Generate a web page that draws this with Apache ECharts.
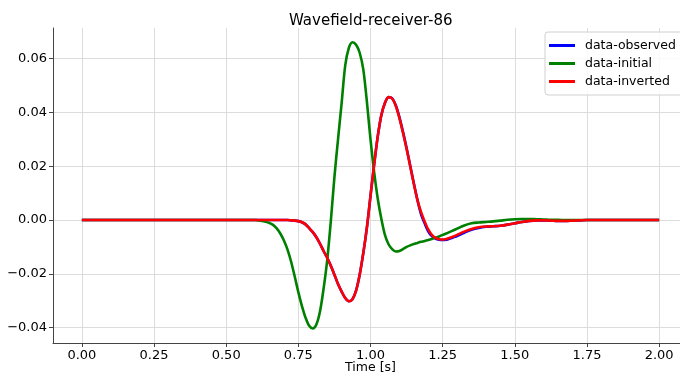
<!DOCTYPE html>
<html><head><meta charset="utf-8">
<script src="https://cdn.jsdelivr.net/npm/echarts@6/dist/echarts.min.js"></script>
<style>html,body{margin:0;padding:0;background:#fff}#c{width:680px;height:374px}</style>
</head><body><div id="c"></div>
<script>
var times = [0.0,0.05,0.1,0.15,0.2,0.25,0.3,0.35,0.4,0.45,0.5,0.55,0.575,
0.6,0.6125,0.625,0.6375,0.65,0.6625,0.675,0.6875,0.7,0.7125,0.725,0.7375,0.75,0.7625,0.775,0.7875,
0.8,0.8125,0.825,0.8375,0.85,0.8625,0.875,0.8875,0.9,0.9125,0.925,0.9375,0.95,0.9625,0.975,0.9875,
1.0,1.0125,1.025,1.0375,1.05,1.0625,1.075,1.0875,1.1,1.1125,1.125,1.1375,1.15,1.1625,1.175,1.1875,
1.2,1.2125,1.225,1.2375,1.25,1.2625,1.275,1.2875,1.3,
1.325,1.35,1.375,1.4,1.425,1.45,1.475,1.5,1.525,1.55,1.575,1.6,1.625,1.65,1.675,
1.7,1.725,1.75,1.775,1.8,1.825,1.85,1.875,1.9,1.925,1.95,1.975,2.0];

var initialVals = [0,0,0,0,0,0,0,0,0,0,0,0,0,
0,-0.0001,-0.0003,-0.0006,-0.0011,-0.0018,-0.0031,-0.0050,-0.0076,-0.0110,-0.0155,-0.0210,-0.0268,-0.0320,-0.0363,-0.0393,
-0.0403,-0.0388,-0.0340,-0.0255,-0.0149,-0.0005,0.0160,0.0300,0.0435,0.0575,0.0640,0.0661,0.0652,0.0622,0.0560,0.0440,
0.0300,0.0180,0.0080,0.0005,-0.0055,-0.0090,-0.0108,-0.0117,-0.0115,-0.0108,-0.0100,-0.0094,-0.0089,-0.0085,-0.0081,-0.0078,
-0.0074,-0.0070,-0.0066,-0.0061,-0.0055,-0.0050,-0.0044,-0.0038,-0.0032,
-0.0020,-0.0012,-0.0009,-0.0007,-0.0005,-0.0002,0.0001,0.0003,0.0004,0.0004,0.0003,0.0002,0.0001,0.0001,0,
0,0,0,0,0,0,0,0,0,0,0,0,0];

var invertedVals = [0,0,0,0,0,0,0,0,0,0,0,0,0,
0,0,0,0,0,0,0,0,0,0,-0.0001,-0.0002,-0.0004,-0.0008,-0.0016,-0.0030,
-0.0045,-0.0064,-0.0088,-0.0115,-0.0140,-0.0170,-0.0203,-0.0238,-0.0266,-0.0290,-0.0302,-0.0294,-0.0262,-0.0203,-0.0123,-0.0028,
0.0090,0.0205,0.0310,0.0390,0.0435,0.0457,0.0452,0.0425,0.0380,0.0325,0.0265,0.0200,0.0135,0.0075,0.0030,-0.0005,
-0.0035,-0.0055,-0.0066,-0.0071,-0.0072,-0.0070,-0.0066,-0.0061,-0.0055,
-0.0043,-0.0033,-0.0027,-0.0024,-0.0023,-0.0021,-0.0017,-0.0012,-0.0007,-0.0003,-0.0001,-0.0001,-0.0002,-0.0003,-0.0003,
-0.0002,-0.0001,0,0,0,0,0,0,0,0,0,0,0];

var observedVals = [0,0,0,0,0,0,0,0,0,0,0,0,0,
0,0,0,0,0,0,0,0,0,0,-0.0001,-0.0002,-0.0004,-0.0008,-0.0016,-0.0030,
-0.0045,-0.0064,-0.0088,-0.0115,-0.0140,-0.0170,-0.0203,-0.0238,-0.0266,-0.0290,-0.0302,-0.0294,-0.0262,-0.0203,-0.0123,-0.0028,
0.0090,0.0205,0.0310,0.0390,0.0435,0.0457,0.0452,0.0427,0.0383,0.0328,0.0268,0.0203,0.0137,0.0075,0.0022,-0.0012,
-0.0042,-0.0060,-0.0069,-0.0073,-0.0074,-0.0073,-0.0069,-0.0064,-0.0059,
-0.0047,-0.0036,-0.0029,-0.0025,-0.0023,-0.0021,-0.0017,-0.0012,-0.0007,-0.0003,-0.0001,-0.0001,-0.0002,-0.0003,-0.0003,
-0.0002,-0.0001,0,0,0,0,0,0,0,0,0,0,0];

var xTicks = [0,0.25,0.5,0.75,1.0,1.25,1.5,1.75,2.0];
var yTicks = [-0.04,-0.02,0,0.02,0.04,0.06];
var titleText = 'Wavefield-receiver-86';
var xName = 'Time [s]';
var names = ['data-observed','data-initial','data-inverted'];
var colors = ['#0000ff','#008000','#ff0000'];

function pairs(v){ return times.map(function(t,i){ return [t, v[i]]; }); }
function fmt(v){ var s = Math.abs(v).toFixed(2); return (v < -1e-9 ? '\u2212' : '') + s; }

var font = 'DejaVu Sans';
var chart = echarts.init(document.getElementById('c'), null, {renderer:'canvas'});
chart.setOption({
  animation:false,
  backgroundColor:'#fff',
  title:{text:titleText, left:284, top:9,
    textStyle:{fontFamily:font, fontSize:15, fontWeight:'normal', color:'#000'}},
  legend:{orient:'vertical', left:545, top:32, data:names.map(function(n){return {name:n, icon:'rect'};}),
    itemWidth:26, itemHeight:3, itemGap:5, padding:[7,40,7,4],
    backgroundColor:'rgba(255,255,255,0.85)', borderColor:'#d0d0d0', borderWidth:1, borderRadius:3,
    textStyle:{fontFamily:font, fontSize:12.5, color:'#000', padding:[0,0,0,5]}},
  grid:{left:53, top:28, width:635, height:315, containLabel:false, outerBoundsMode:'none'},
  xAxis:{type:'value', min:-0.1, max:2.1,
    name:xName, nameLocation:'middle', nameGap:18, nameMoveOverlap:false,
    nameTextStyle:{fontFamily:font, fontSize:12.5, color:'#000', verticalAlign:'top'},
    axisLine:{show:true, onZero:false, lineStyle:{color:'#444', width:1}},
    axisTick:{show:true, customValues:xTicks, length:4, inside:false, lineStyle:{color:'#444'}},
    axisLabel:{customValues:xTicks, formatter:fmt, fontFamily:font, fontSize:13, color:'#000', margin:6},
    splitLine:{show:true, lineStyle:{color:'#dcdcdc', width:1}}},
  yAxis:{type:'value', min:-0.0457, max:0.0714,
    axisLine:{show:true, onZero:false, lineStyle:{color:'#444', width:1}},
    axisTick:{show:true, customValues:yTicks, length:4, lineStyle:{color:'#444'}},
    axisLabel:{customValues:yTicks, formatter:fmt, fontFamily:font, fontSize:13, color:'#000', margin:6},
    splitLine:{show:true, lineStyle:{color:'#dcdcdc', width:1}}},
  series:[
    {name:names[0], type:'line', data:pairs(observedVals), showSymbol:false, smooth:0.3,
     lineStyle:{color:colors[0], width:2.6}, itemStyle:{color:colors[0]}},
    {name:names[1], type:'line', data:pairs(initialVals), showSymbol:false, smooth:0.3,
     lineStyle:{color:colors[1], width:2.6}, itemStyle:{color:colors[1]}},
    {name:names[2], type:'line', data:pairs(invertedVals), showSymbol:false, smooth:0.3,
     lineStyle:{color:colors[2], width:2.6}, itemStyle:{color:colors[2]}}
  ]
});
</script></body></html>
